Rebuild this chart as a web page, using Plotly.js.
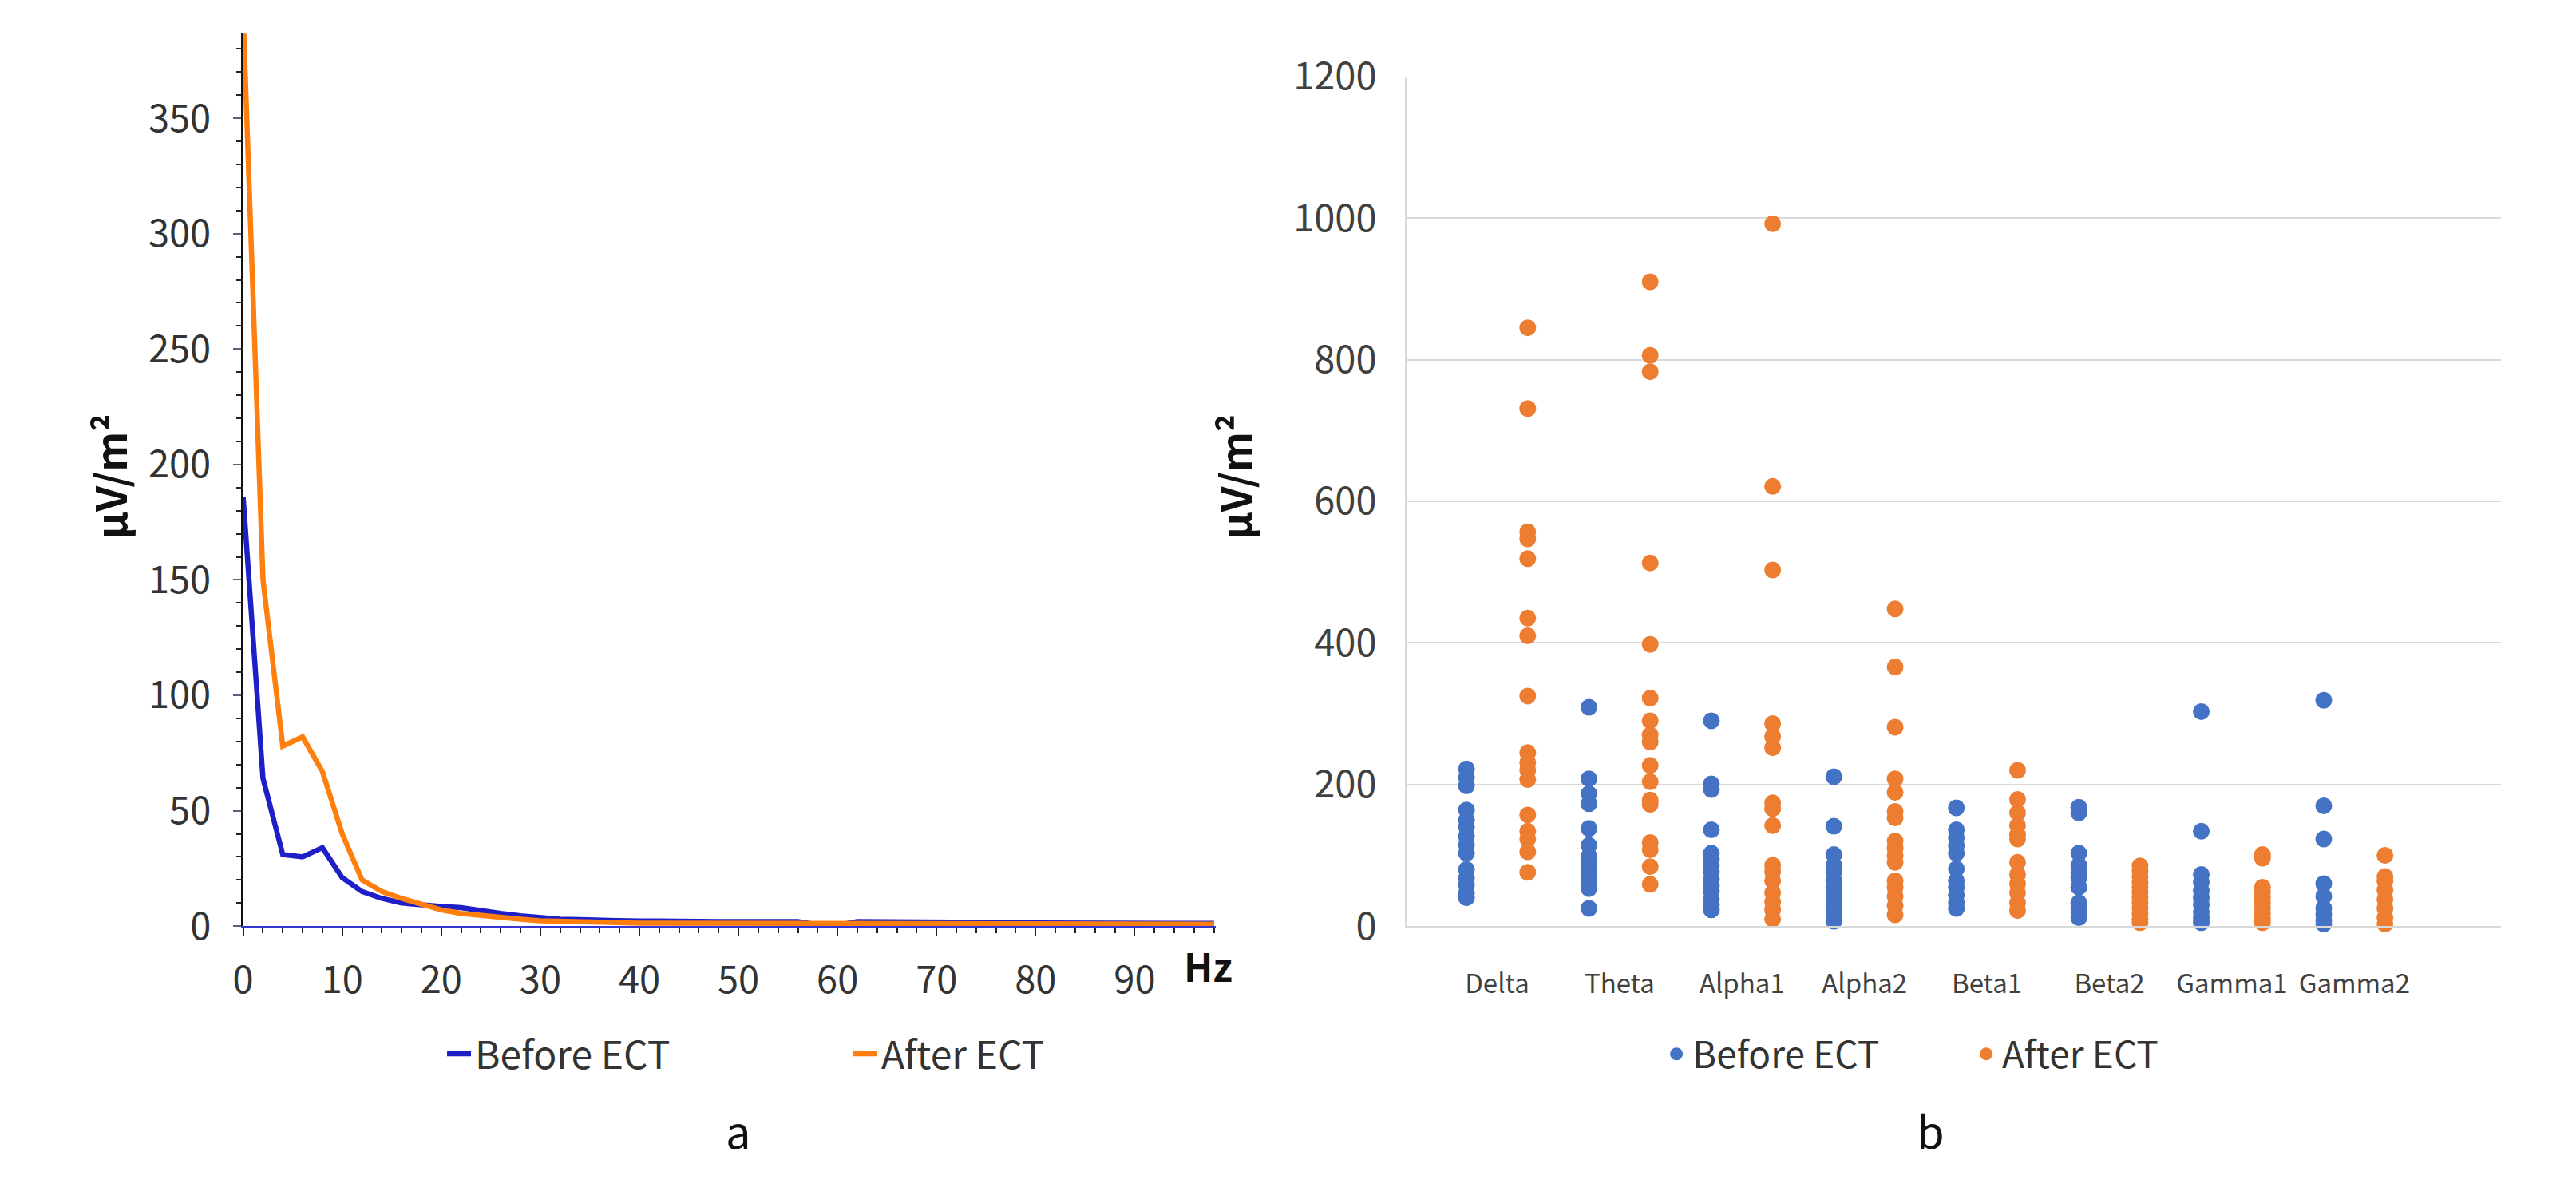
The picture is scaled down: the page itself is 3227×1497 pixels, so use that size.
<!DOCTYPE html>
<html><head><meta charset="utf-8">
<script src="https://cdn.plot.ly/plotly-3.0.1.min.js"></script>
<style>html,body{margin:0;padding:0;background:#fff;}</style>
</head><body><div id="chart" style="width:3227px;height:1497px;"></div>
<script>
// ---- Panel a: power spectrum ----
const freqHz = [0,2,4,6,8,10,12,14,16,18,20,22,24,26,28,30,32,34,36,38,40,42,44,46,48,50,52,54,56,58,60,62,64,66,68,70,72,74,76,78,80,82,84,86,88,90,92,94,96,98];
const spectrumBefore = [186,64,31,30,34,21,15,12,10,9,8.5,8,6.5,5.5,4.5,3.5,3,2.8,2.5,2.3,2.2,2.2,2,2,2,2,2,2,2,0.5,0.3,2,2,1.8,1.8,1.7,1.7,1.6,1.6,1.5,1.4,1.3,1.3,1.2,1.2,1.2,1.2,1.2,1.2,1.2];
const spectrumAfter  = [395,150,78,82,67,40,20,15,12,9.5,7,5.5,4.5,3.5,3,2.3,2,1.8,1.5,1.4,1.3,1.3,1.3,1.2,1.2,1.2,1.2,1.2,1.2,1,1,1,1,1,1,1,1,1,1,0.9,0.9,0.9,0.9,0.9,0.8,0.8,0.8,0.8,0.8,0.8];
const freqTicks = [0,10,20,30,40,50,60,70,80,90];

// ---- Panel b: band power per subject ----
const bands = ['Delta','Theta','Alpha1','Alpha2','Beta1','Beta2','Gamma1','Gamma2'];
const beforeDelta  = [222,210,198,164,150,140,127,115,103,80,68,58,47,40];
const afterDelta   = [845,731,557,547,519,435,410,325,245,231,220,207,157,134,123,105,76];
const beforeTheta  = [309,208,187,173,138,114,99,90,81,75,68,60,53,25];
const afterTheta   = [910,806,783,513,398,322,290,270,260,227,204,178,172,118,108,84,59];
const beforeAlpha1 = [290,201,193,136,103,94,86,77,66,57,49,38,30,23];
const afterAlpha1  = [992,621,503,286,268,252,174,166,142,86,77,64,47,34,23,10];
const beforeAlpha2 = [211,141,101,86,77,64,55,47,38,29,20,13,7];
const afterAlpha2  = [448,366,281,208,189,162,153,120,110,100,90,64,55,42,29,16];
const beforeBeta1  = [167,136,125,114,103,81,64,55,44,33,25];
const afterBeta1   = [220,179,160,142,129,123,90,73,60,47,33,22];
const beforeBeta2  = [168,160,103,86,75,68,55,33,25,20,12];
const afterBeta2   = [85,78,70,62,55,48,40,33,25,18,10,5];
const beforeGamma1 = [303,134,73,62,50,40,30,20,12,5];
const afterGamma1  = [101,96,55,48,40,33,25,18,11,5];
const beforeGamma2 = [319,170,123,60,42,25,16,8,3];
const afterGamma2  = [100,70,64,51,38,25,12,3];

const beforeSets = [beforeDelta,beforeTheta,beforeAlpha1,beforeAlpha2,beforeBeta1,beforeBeta2,beforeGamma1,beforeGamma2];
const afterSets  = [afterDelta,afterTheta,afterAlpha1,afterAlpha2,afterBeta1,afterBeta2,afterGamma1,afterGamma2];

function spread(sets, offset){
  const xs=[], ys=[];
  sets.forEach((arr,i)=>arr.forEach(v=>{xs.push(i+offset); ys.push(v);}));
  return {xs, ys};
}
const pb = spread(beforeSets, -0.25);
const pa = spread(afterSets, 0.25);

const FONT = '"Noto Sans CJK JP", "Noto Sans", sans-serif';

const traces = [
  {x:freqHz, y:spectrumBefore, type:'scatter', mode:'lines', name:'Before ECT',
   line:{color:'#1f1fc8', width:6.5}, xaxis:'x', yaxis:'y', legend:'legend'},
  {x:freqHz, y:spectrumAfter, type:'scatter', mode:'lines', name:'After ECT',
   line:{color:'#ff7f0e', width:6.5}, xaxis:'x', yaxis:'y', legend:'legend'},
  {x:pb.xs, y:pb.ys, type:'scatter', mode:'markers', name:'Before ECT',
   marker:{color:'#4472c4', size:21}, xaxis:'x2', yaxis:'y2', legend:'legend2', cliponaxis:false},
  {x:pa.xs, y:pa.ys, type:'scatter', mode:'markers', name:'After ECT',
   marker:{color:'#ed7d31', size:21}, xaxis:'x2', yaxis:'y2', legend:'legend2', cliponaxis:false}
];

const layout = {
  width:3227, height:1497,
  margin:{l:0,r:0,t:0,b:0},
  paper_bgcolor:'#fff', plot_bgcolor:'#fff',
  font:{family:FONT, color:'#333'},
  showlegend:true,
  xaxis:{domain:[0.0944,0.472], range:[0,98.2], tickvals:freqTicks, ticks:'outside', ticklen:10, tickwidth:2, tickcolor:'#222',
    minor:{dtick:2, ticks:'outside', ticklen:6, tickwidth:2, tickcolor:'#222', showgrid:false},
    showline:true, linecolor:'#3535d0', linewidth:3, zeroline:false, showgrid:false, tickangle:0,
    tickfont:{size:47, color:'#333'}, ticklabelstandoff:14, anchor:'y'},
  yaxis:{domain:[0.225,0.9725], range:[0,387], dtick:50, ticks:'outside', ticklen:10, tickwidth:2, tickcolor:'#55667a',
    minor:{dtick:10, ticks:'outside', ticklen:6, tickwidth:2, tickcolor:'#222', showgrid:false},
    showline:true, linecolor:'#111', linewidth:3, zeroline:false, showgrid:false,
    tickfont:{size:47, color:'#333'}, ticklabelstandoff:18, anchor:'x'},
  xaxis2:{domain:[0.546,0.971], range:[-0.74,8.2], tickvals:[0,1,2,3,4,5,6,7], ticktext:bands, ticks:'', tickangle:0,
    showline:true, linecolor:'#d9d9d9', linewidth:2, zeroline:false, showgrid:false,
    tickfont:{size:33, color:'#404040'}, ticklabelstandoff:42, anchor:'y2'},
  yaxis2:{domain:[0.225,0.936], range:[0,1200], dtick:200, ticks:'',
    showline:true, linecolor:'#d9d9d9', linewidth:2, zeroline:false, showgrid:true, gridcolor:'#d9d9d9', gridwidth:2,
    tickfont:{size:47, color:'#404040'}, ticklabelstandoff:26, anchor:'x2'},
  legend:{orientation:'h', x:0.172, y:0.118, xanchor:'left', yanchor:'middle', entrywidth:464, entrywidthmode:'pixels',
    font:{size:48, color:'#333'}, bgcolor:'rgba(0,0,0,0)'},
  legend2:{orientation:'h', x:0.6446, y:0.118, xanchor:'left', yanchor:'middle', entrywidth:343, entrywidthmode:'pixels',
    font:{size:46, color:'#333'}, bgcolor:'rgba(0,0,0,0)'},
  annotations:[
    {text:'<b>μV/m²</b>', xref:'paper', yref:'paper', x:0.030, y:0.601, textangle:-90, showarrow:false, font:{size:52, color:'#111'}},
    {text:'<b>μV/m²</b>', xref:'paper', yref:'paper', x:0.479, y:0.601, textangle:-90, showarrow:false, font:{size:52, color:'#111'}},
    {text:'<b>Hz</b>', xref:'paper', yref:'paper', x:0.469, y:0.168, showarrow:false, font:{size:48, color:'#111'}},
    {text:'a', xref:'paper', yref:'paper', x:0.281, y:0.027, showarrow:false, font:{size:56, color:'#111'}},
    {text:'b', xref:'paper', yref:'paper', x:0.7555, y:0.027, showarrow:false, font:{size:56, color:'#111'}}
  ]
};

Plotly.newPlot('chart', traces, layout, {displayModeBar:false, staticPlot:true});
</script></body></html>
